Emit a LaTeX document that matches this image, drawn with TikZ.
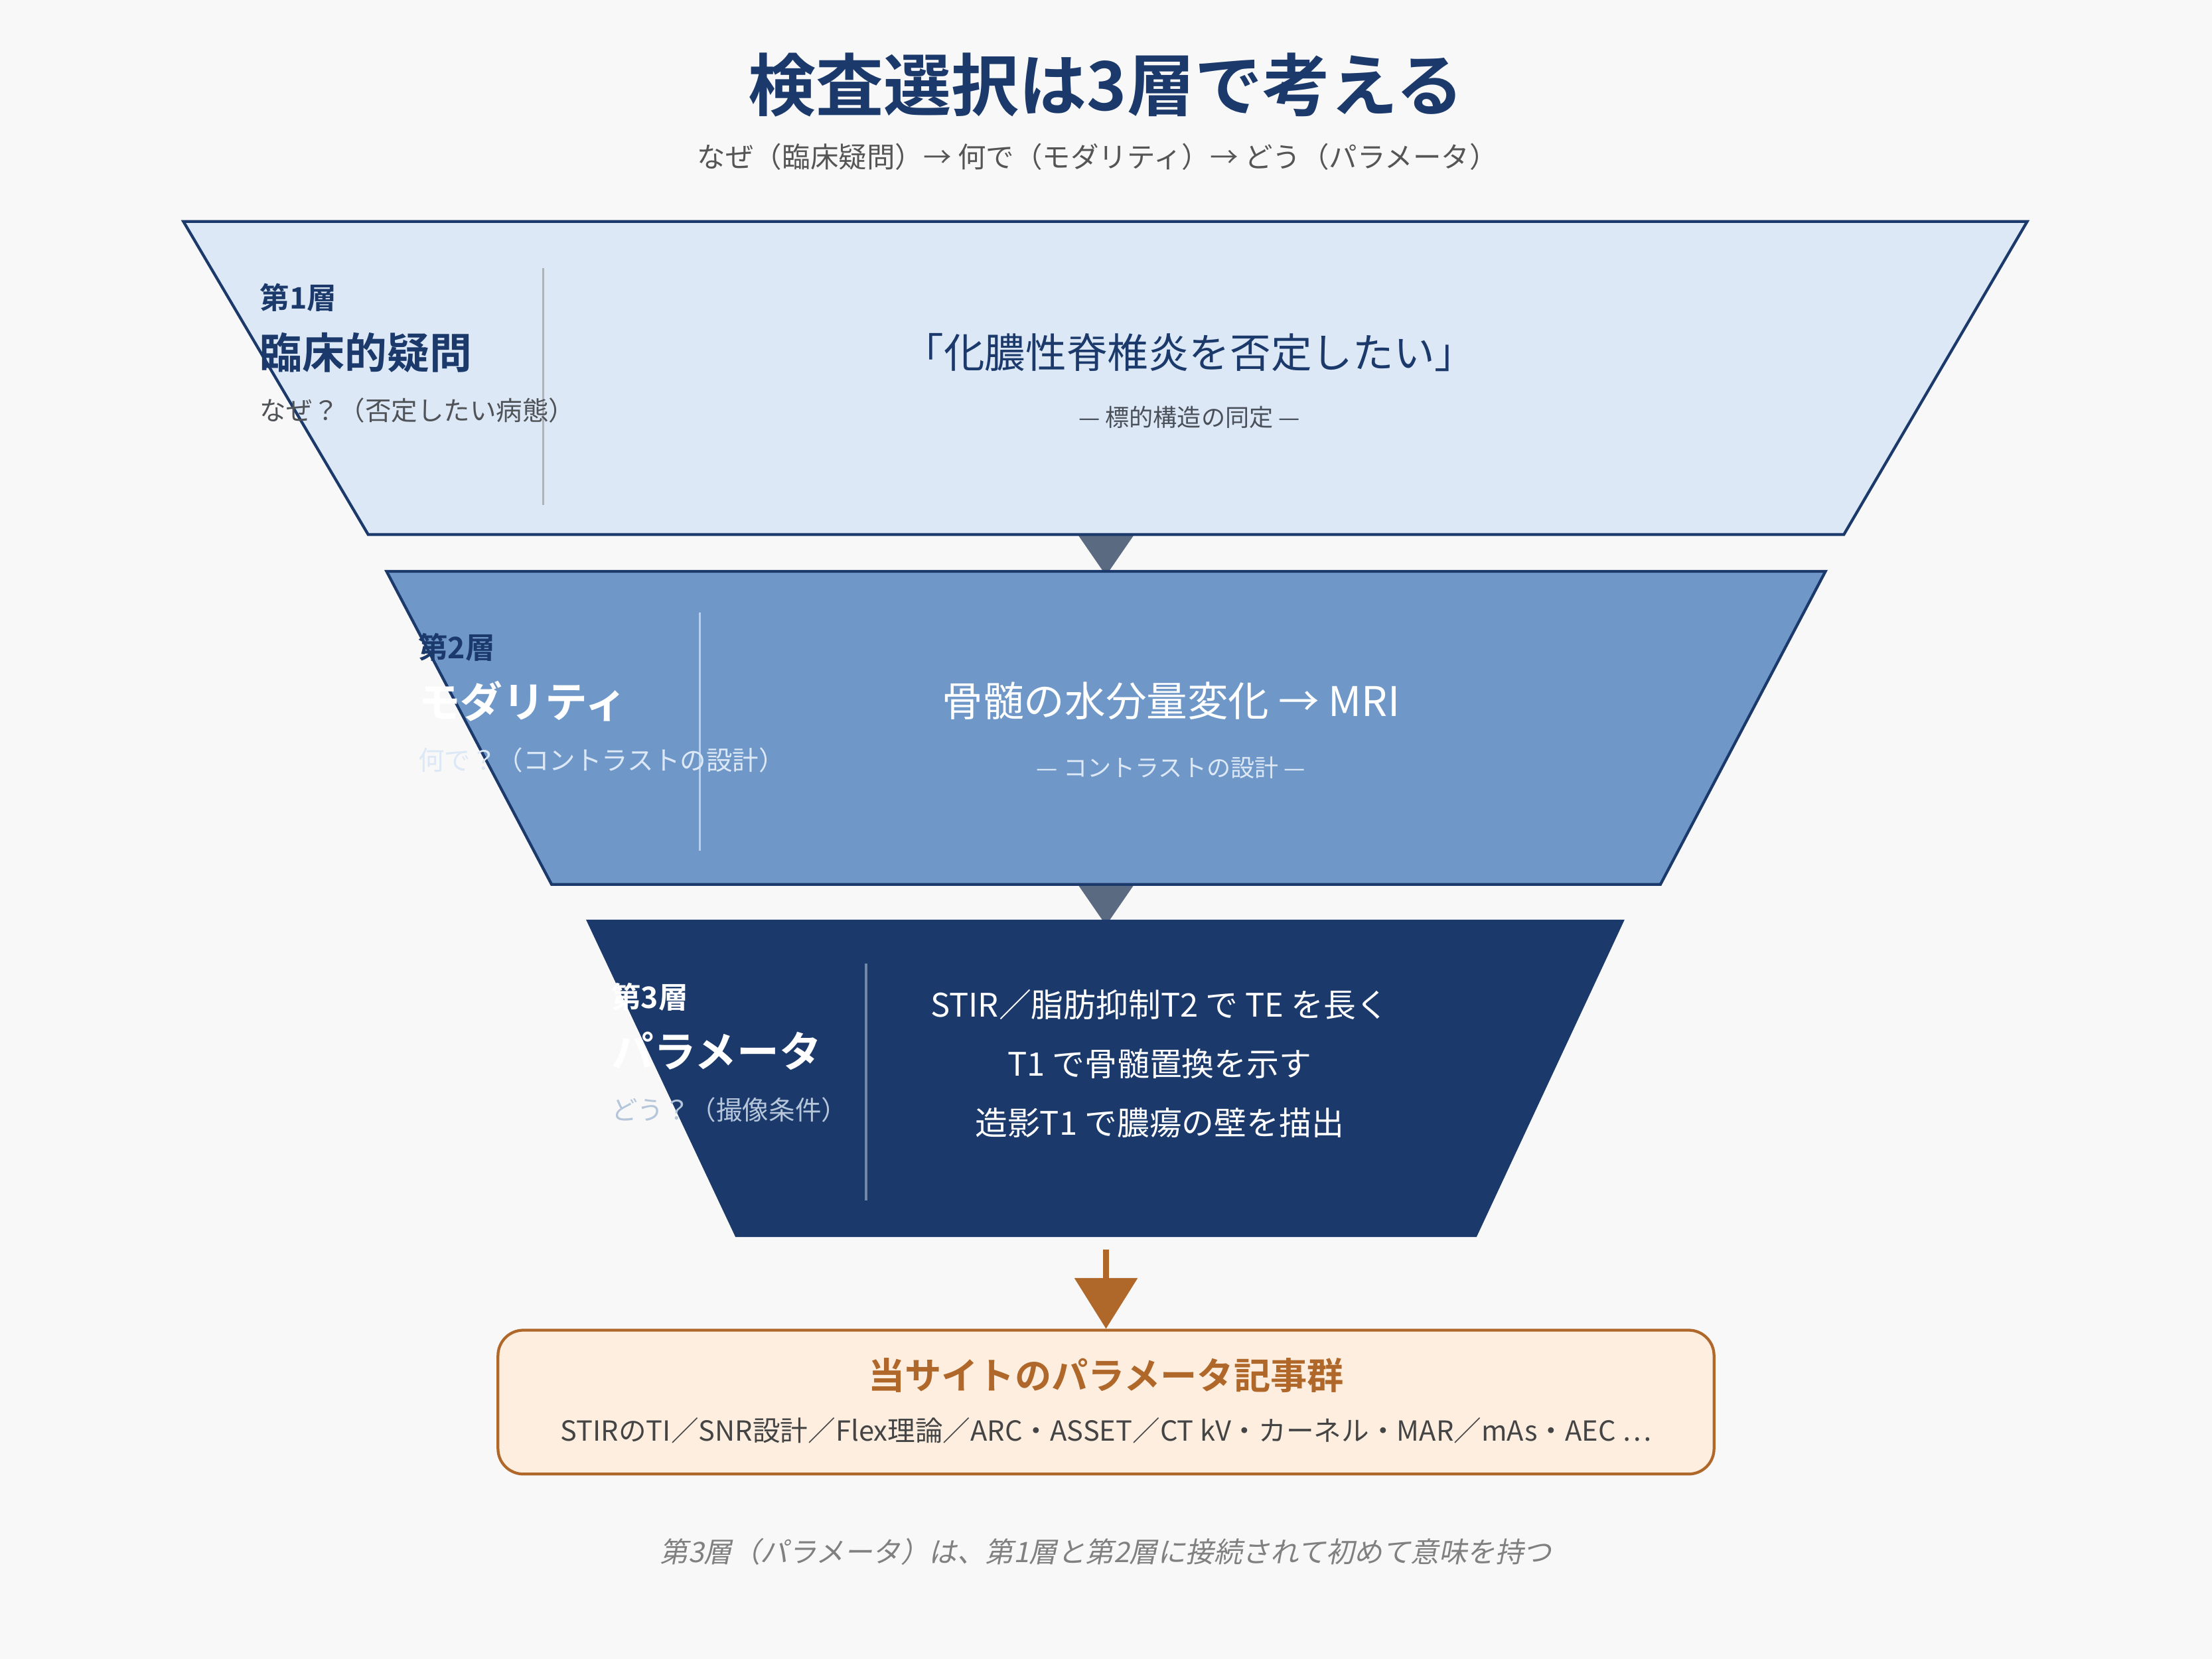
\documentclass[tikz,border=0pt]{standalone}
\usepackage{fontspec}
\setmainfont{Noto Sans CJK JP}
\newfontfamily\jpbold[BoldFont={Noto Sans CJK JP Bold}]{Noto Sans CJK JP Bold}
\newfontfamily\jpslant[FakeSlant=0.2]{Noto Sans CJK JP}
\usetikzlibrary{arrows.meta}
\definecolor{navy}{HTML}{1B3A6B}
\definecolor{pale}{HTML}{DCE8F5}
\definecolor{mid}{HTML}{6F98C8}
\definecolor{conn}{HTML}{5A6A80}
\definecolor{orng}{HTML}{B0682A}
\definecolor{ocream}{HTML}{FDEEE0}
\definecolor{bg}{HTML}{F8F8F8}
\definecolor{txtgray}{HTML}{555555}
\begin{document}
\begin{tikzpicture}[x=0.5pt,y=-0.5pt,
  fs/.style={font=\fontsize{#1}{#1}\selectfont},
  layer/.style={draw=navy,line width=1pt},
  div/.style={draw=#1,line width=0.8pt},
  lt/.style={anchor=west,inner sep=0pt},
  ct/.style={anchor=center,inner sep=0pt}]
\fill[bg] (0,0) rectangle (1568,1176);
\useasboundingbox (0,0) rectangle (1568,1176);
\node[ct,fs=24,text=navy] (title) at (784,60) {\jpbold 検査選択は3層で考える};
\node[ct,fs=10,text=txtgray] (sub) at (778,111) {なぜ（臨床疑問）→ 何で（モダリティ）→ どう（パラメータ）};
% connectors triangles
\fill[conn] (764,379) -- (804,379) -- (784,408) -- cycle;
\fill[conn] (764,627) -- (804,627) -- (784,656) -- cycle;
% layer 1
\draw[layer,fill=pale] (130,157) -- (1437,157) -- (1307,379) -- (261,379) -- cycle;
\coordinate (d1a) at (385,190); \coordinate (d1b) at (385,358);
\draw[div=gray!60] (d1a) -- (d1b);
\node[lt,fs=10.5,text=navy] (l1a) at (184,211) {\jpbold 第1層};
\node[lt,fs=15,text=navy] (l1b) at (184,250) {\jpbold 臨床的疑問};
\node[lt,fs=9.3,text=txtgray!90!navy] (l1c) at (184,291) {なぜ？（否定したい病態）};
\node[ct,fs=14.5,text=navy] (c1a) at (843,250) {「化膿性脊椎炎を否定したい」};
\node[ct,fs=8.5,text=txtgray!80!navy] (c1b) at (843,296) {— 標的構造の同定 —};
% layer 2
\draw[layer,fill=mid] (274,405) -- (1294,405) -- (1177,627) -- (391,627) -- cycle;
\coordinate (d2a) at (496,434); \coordinate (d2b) at (496,603);
\draw[div=pale!70!mid] (d2a) -- (d2b);
\node[lt,fs=10.5,text=navy] (l2a) at (296,459) {\jpbold 第2層};
\node[lt,fs=15,text=white] (l2b) at (296,497) {\jpbold モダリティ};
\node[lt,fs=9.3,text=pale] (l2c) at (296,539) {何で？（コントラストの設計）};
\node[ct,fs=14.5,text=white] (c2a) at (830,497) {骨髄の水分量変化 → MRI};
\node[ct,fs=8.5,text=pale] (c2b) at (830,544) {— コントラストの設計 —};
% layer 3
\draw[layer,fill=navy] (417,653) -- (1150,653) -- (1046,876) -- (522,876) -- cycle;
\coordinate (d3a) at (614,683); \coordinate (d3b) at (614,851);
\draw[div=pale!45!navy] (d3a) -- (d3b);
\node[lt,fs=10.5,text=white] (l3a) at (433,707) {\jpbold 第3層};
\node[lt,fs=15,text=white] (l3b) at (433,745) {\jpbold パラメータ};
\node[lt,fs=9.3,text=pale!80!navy] (l3c) at (433,787) {どう？（撮像条件）};
\node[ct,fs=11.5,text=white] (c3a) at (822,712) {STIR／脂肪抑制T2 で TE を長く};
\node[ct,fs=11.5,text=white] (c3b) at (822,754) {T1 で骨髄置換を示す};
\node[ct,fs=11.5,text=white] (c3c) at (822,796) {造影T1 で膿瘍の壁を描出};
% arrow and box
\coordinate (arrS) at (784,886);
\node[draw=orng,line width=1pt,fill=ocream,rounded corners=9pt,minimum width=431pt,minimum height=51pt,inner sep=0pt] (box) at (784,994) {};
\draw[orng,line width=2pt,-{Triangle[length=18pt,width=22pt]}] (arrS) -- (box.north);
\node[ct,fs=13,text=orng] (bt) at (784,975) {\jpbold 当サイトのパラメータ記事群};
\node[ct,fs=9.8,text=txtgray!80!black] (bl) at (784,1014) {STIRのTI／SNR設計／Flex理論／ARC・ASSET／CT kV・カーネル・MAR／mAs・AEC …};
\node[ct,fs=10,text=gray] (foot) at (784,1100) {\jpslant 第3層（パラメータ）は、第1層と第2層に接続されて初めて意味を持つ};
\end{tikzpicture}
\end{document}
